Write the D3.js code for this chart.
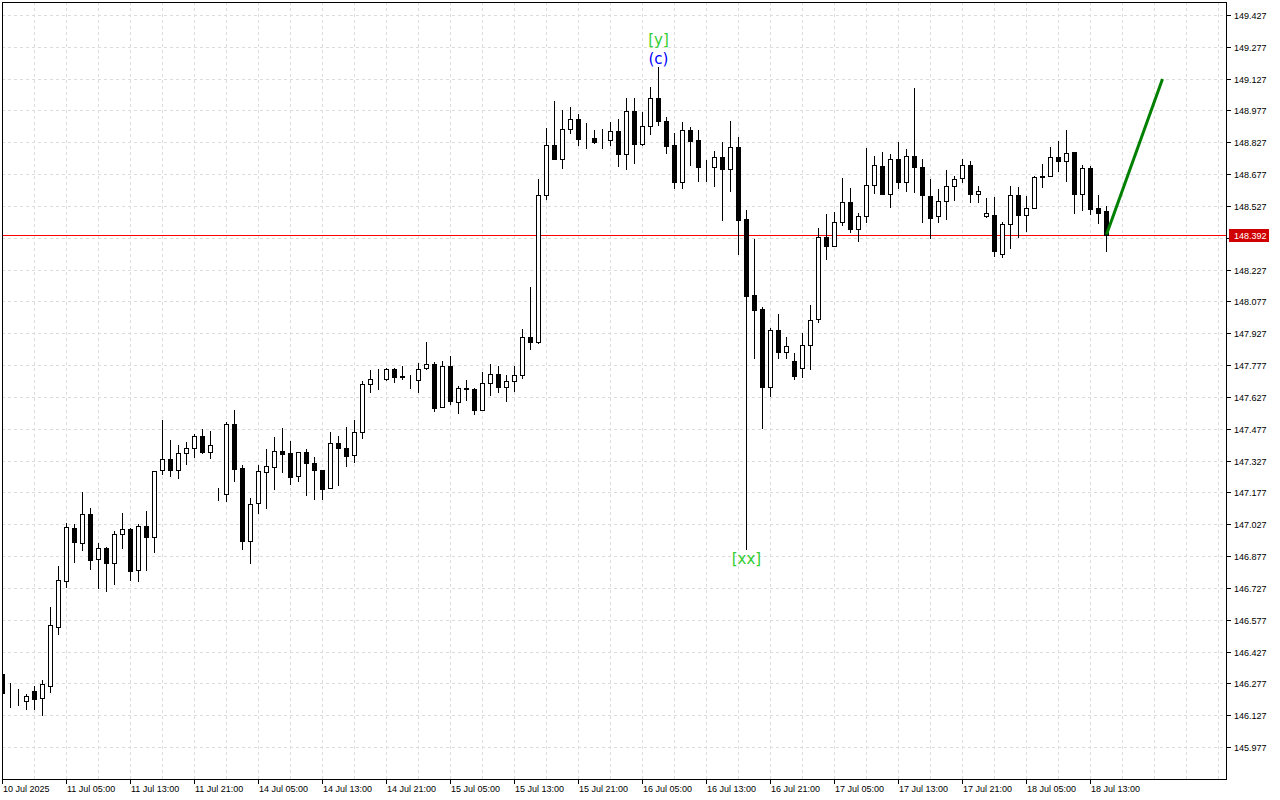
<!DOCTYPE html>
<html><head><meta charset="utf-8">
<script src="https://cdn.jsdelivr.net/npm/d3@7"></script>
<style>
html,body{margin:0;padding:0;background:#fff;}
svg{display:block;}
text{font-family:"Liberation Sans",Arial,sans-serif;}
</style></head>
<body>
<svg id="chart" width="1280" height="800"></svg>
<script>
// ---- DATA (hourly candles, 10 Jul 21:00 .. 18 Jul 15:00) ----
const opens = [146.322,146.235,146.235,146.194,146.240,146.207,146.266,146.544,146.761,147.009,
146.940,147.074,146.862,146.915,146.846,146.980,147.005,146.810,147.019,146.966,
147.281,147.333,147.284,147.361,147.385,147.442,147.366,147.145,147.168,147.498,
147.291,146.947,147.126,147.272,147.296,147.371,147.361,147.253,147.366,147.314,
147.281,147.197,147.409,147.385,147.352,147.460,147.687,147.710,147.710,147.757,
147.724,147.687,147.705,147.762,147.781,147.578,147.771,147.602,147.668,147.663,
147.564,147.691,147.734,147.673,147.701,147.729,147.911,147.887,148.577,148.813,
148.750,148.888,148.935,148.846,148.846,148.827,148.837,148.879,148.773,148.973,
148.818,148.902,149.034,148.927,148.814,148.641,148.884,148.837,148.712,148.709,
148.759,148.700,148.804,148.464,148.106,148.041,147.675,147.941,147.840,147.795,
147.762,147.870,147.993,148.379,148.337,148.450,148.544,148.417,148.478,148.624,
148.714,148.582,148.747,148.639,148.761,148.709,148.573,148.478,148.549,148.620,
148.657,148.719,148.582,148.478,148.483,148.299,148.441,148.577,148.483,148.516,
148.667,148.667,148.756,148.738,148.780,148.585,148.705,148.516,148.502];
const highs = [146.331,146.278,146.252,146.227,146.265,146.293,146.637,146.832,147.033,147.027,
147.179,147.102,146.939,146.918,146.994,147.080,147.009,147.027,147.090,147.278,
147.518,147.424,147.401,147.415,147.451,147.476,147.467,147.198,147.509,147.566,
147.305,147.151,147.305,147.380,147.438,147.481,147.419,147.368,147.382,147.344,
147.283,147.462,147.443,147.485,147.518,147.702,147.754,147.757,147.762,147.762,
147.771,147.729,147.786,147.885,147.790,147.795,147.819,147.677,147.705,147.668,
147.743,147.781,147.771,147.729,147.771,147.946,148.144,148.654,148.893,149.022,
148.979,148.992,148.959,148.918,148.884,148.888,148.921,148.935,149.036,149.036,
148.968,149.086,149.183,148.946,148.871,148.923,148.899,148.885,148.745,148.785,
148.827,148.926,148.851,148.507,148.370,148.052,147.953,148.017,147.908,147.833,
147.927,148.059,148.422,148.488,148.497,148.657,148.610,148.492,148.799,148.761,
148.780,148.771,148.827,148.794,149.082,148.747,148.653,148.607,148.697,148.670,
148.748,148.739,148.620,148.563,148.568,148.450,148.620,148.615,148.573,148.667,
148.723,148.804,148.831,148.885,148.780,148.719,148.714,148.579,148.528];
const lows = [146.213,146.165,146.175,146.158,146.158,146.130,146.238,146.511,146.733,146.851,
146.907,146.818,146.728,146.714,146.747,146.917,146.764,146.761,146.812,146.898,
147.265,147.256,147.246,147.312,147.343,147.361,147.341,147.140,147.138,147.229,
146.912,146.846,147.082,147.102,147.195,147.275,147.218,147.232,147.166,147.148,
147.148,147.197,147.214,147.303,147.319,147.432,147.652,147.666,147.708,147.699,
147.710,147.668,147.649,147.757,147.559,147.578,147.595,147.550,147.611,147.545,
147.564,147.635,147.649,147.607,147.654,147.715,147.852,147.883,148.561,148.750,
148.707,148.870,148.816,148.802,148.825,148.802,148.816,148.717,148.703,148.731,
148.816,148.865,148.907,148.778,148.613,148.613,148.722,148.646,148.646,148.623,
148.462,148.599,148.302,146.909,147.812,147.482,147.633,147.812,147.812,147.710,
147.720,147.760,147.979,148.276,148.337,148.436,148.403,148.361,148.450,148.587,
148.582,148.521,148.610,148.596,148.591,148.450,148.375,148.450,148.467,148.557,
148.639,148.544,148.547,148.474,148.293,148.285,148.328,148.379,148.408,148.516,
148.615,148.667,148.690,148.646,148.495,148.509,148.491,148.448,148.316];
const closes = [146.232,146.235,146.235,146.216,146.205,146.273,146.551,146.763,147.014,146.945,
147.074,146.860,146.914,146.846,146.980,147.005,146.808,147.017,146.966,147.277,
147.333,147.284,147.361,147.385,147.442,147.366,147.399,147.145,147.498,147.289,
146.947,147.124,147.277,147.300,147.371,147.360,147.251,147.366,147.314,147.281,
147.195,147.409,147.385,147.347,147.460,147.687,147.710,147.710,147.757,147.720,
147.720,147.687,147.757,147.781,147.576,147.771,147.607,147.668,147.663,147.564,
147.691,147.734,147.673,147.701,147.729,147.908,147.887,148.577,148.813,148.750,
148.888,148.935,148.844,148.846,148.827,148.827,148.879,148.773,148.973,148.818,
148.902,149.034,148.926,148.811,148.640,148.884,148.835,148.712,148.712,148.759,
148.700,148.804,148.462,148.104,148.038,147.675,147.941,147.840,147.866,147.726,
147.873,147.988,148.379,148.337,148.450,148.544,148.417,148.478,148.624,148.719,
148.582,148.747,148.639,148.761,148.709,148.577,148.472,148.550,148.620,148.653,
148.719,148.582,148.596,148.492,148.313,148.441,148.577,148.483,148.516,148.662,
148.662,148.756,148.738,148.775,148.585,148.705,148.514,148.495,148.392];

const timeLabels = ["10 Jul 2025","11 Jul 05:00","11 Jul 13:00","11 Jul 21:00","14 Jul 05:00",
"14 Jul 13:00","14 Jul 21:00","15 Jul 05:00","15 Jul 13:00","15 Jul 21:00","16 Jul 05:00",
"16 Jul 13:00","16 Jul 21:00","17 Jul 05:00","17 Jul 13:00","17 Jul 21:00","18 Jul 05:00","18 Jul 13:00"];
const candlesPerTimeLabel = 8;

const priceTicks = [149.427,149.277,149.127,148.977,148.827,148.677,148.527,148.377,148.227,148.077,
147.927,147.777,147.627,147.477,147.327,147.177,147.027,146.877,146.727,146.577,146.427,146.277,146.127,145.977];

const currentPrice = 148.392;

const projectionIdx = [138, 145];
const projectionPrice = [148.392, 149.125];

const waveLabelText = ["[y]", "(c)", "[xx]"];
const waveLabelIdx = [82, 82, 93];
const waveLabelAnchor = ["high", "high", "low"];

// ---- LAYOUT ----
const L = 2, R = 1226, T = 2, B = 779;
const svg = d3.select("#chart");
const x = d3.scaleLinear().domain([0, 1]).range([2, 10]);
const y = d3.scaleLinear().domain([145.977, 149.427]).range([747, 15]);
const px = v => Math.round(v);

svg.append("rect").attr("width",1280).attr("height",800).attr("fill","#fff");

svg.append("clipPath").attr("id","plotclip").append("rect")
  .attr("x",L).attr("y",T).attr("width",R-L).attr("height",B-T);

// grid
const grid = svg.append("g").attr("shape-rendering","crispEdges")
  .attr("stroke","#dcdcdc").attr("stroke-dasharray","3,3").attr("stroke-width",1);
grid.selectAll("line.h").data(priceTicks).join("line").attr("class","h")
  .attr("x1",L).attr("x2",R)
  .attr("y1",d=>px(y(d))+0.5).attr("y2",d=>px(y(d))+0.5);
grid.selectAll("line.v").data(d3.range(4, 153, 4)).join("line").attr("class","v")
  .attr("x1",d=>x(d)+0.5).attr("x2",d=>x(d)+0.5)
  .attr("y1",T).attr("y2",B);

// current price line
svg.append("rect")
  .attr("x",L).attr("width",R-L)
  .attr("y",px(y(currentPrice))).attr("height",1)
  .attr("fill","#ff0000");

// candles
const idx = d3.range(opens.length);
const cg = svg.append("g").attr("clip-path","url(#plotclip)").attr("shape-rendering","crispEdges");
cg.selectAll("line.wick").data(idx).join("line").attr("class","wick")
  .attr("x1",i=>x(i)+0.5).attr("x2",i=>x(i)+0.5)
  .attr("y1",i=>px(y(highs[i]))).attr("y2",i=>px(y(lows[i]))+1)
  .attr("stroke","#000").attr("stroke-width",1);
cg.selectAll("rect.body").data(idx).join("rect").attr("class","body")
  .attr("x",i=>x(i)-1.5)
  .attr("width",4)
  .attr("y",i=>px(y(Math.max(opens[i],closes[i])))+0.5)
  .attr("height",i=>Math.max(0, px(y(Math.min(opens[i],closes[i]))) - px(y(Math.max(opens[i],closes[i])))))
  .attr("fill",i=>closes[i] >= opens[i] ? "#fff" : "#000")
  .attr("stroke","#000").attr("stroke-width",1);

// projection line
svg.append("line")
  .attr("x1",x(projectionIdx[0])+0.5).attr("y1",y(projectionPrice[0]))
  .attr("x2",x(projectionIdx[1])+0.5).attr("y2",y(projectionPrice[1]))
  .attr("stroke","#008000").attr("stroke-width",3);

// wave labels
const waveColor = {"[y]":"#32cd32","(c)":"#0000ff","[xx]":"#32cd32"};
waveLabelText.forEach((t,j)=>{
  const i = waveLabelIdx[j];
  let yy;
  if (waveLabelAnchor[j] === "high") {
    yy = y(highs[i]) - 3 - (t === "[y]" ? 19 : 0);
  } else {
    yy = y(lows[i]) + 15;
  }
  svg.append("text").attr("x",x(i)+0.5).attr("y",yy)
    .attr("text-anchor","middle")
    .style("font-family","'DejaVu Sans',Verdana,sans-serif")
    .style("font-size","15px")
    .attr("fill",waveColor[t]).text(t);
});

// frame
svg.append("rect").attr("shape-rendering","crispEdges")
  .attr("x",L+0.5).attr("y",T+0.5).attr("width",R-L).attr("height",B-T)
  .attr("fill","none").attr("stroke","#000").attr("stroke-width",1);

// right price axis
const ax = svg.append("g").attr("shape-rendering","crispEdges");
ax.selectAll("line").data(priceTicks).join("line")
  .attr("x1",R).attr("x2",R+5)
  .attr("y1",d=>px(y(d))+0.5).attr("y2",d=>px(y(d))+0.5)
  .attr("stroke","#000");
svg.append("g").selectAll("text").data(priceTicks).join("text")
  .attr("x",R+8).attr("y",d=>px(y(d))+3.5)
  .style("font-size","9px").attr("fill","#000")
  .text(d=>d.toFixed(3));

// current price tag
const cy = px(y(currentPrice));
svg.append("rect").attr("x",R+3).attr("y",cy-6).attr("width",40).attr("height",13)
  .attr("fill","#d00000");
svg.append("text").attr("x",R+8).attr("y",cy+4)
  .style("font-size","9px").attr("fill","#fff").text(currentPrice.toFixed(3));

// bottom time axis
const tx = svg.append("g").attr("shape-rendering","crispEdges");
tx.selectAll("line").data(timeLabels).join("line")
  .attr("x1",(d,j)=>x(j*candlesPerTimeLabel)+0.5).attr("x2",(d,j)=>x(j*candlesPerTimeLabel)+0.5)
  .attr("y1",B).attr("y2",B+5).attr("stroke","#000");
svg.append("g").selectAll("text").data(timeLabels).join("text")
  .attr("x",(d,j)=>x(j*candlesPerTimeLabel)+1).attr("y",792)
  .style("font-size","9px").attr("fill","#000").text(d=>d);
</script>
</body></html>
